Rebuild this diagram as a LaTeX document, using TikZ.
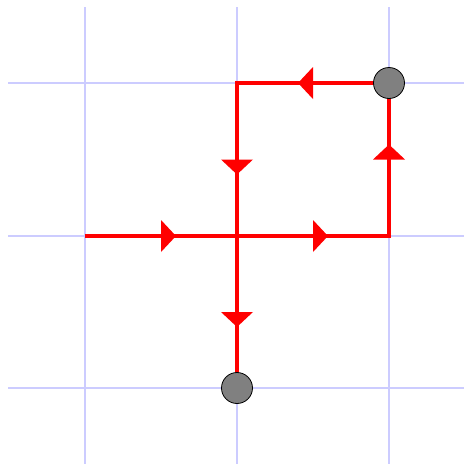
\documentclass[tikz,border=0pt]{standalone}
\usetikzlibrary{decorations.markings}
\definecolor{gridblue}{RGB}{204,204,255}
\definecolor{dotgray}{RGB}{128,128,128}
\tikzset{
  gridline/.style={draw=gridblue, line width=1.6pt},
  route/.style={draw=red, line width=4.5pt,
    postaction={decorate},
    decoration={markings, mark=at position 0.5 with {\fill[red] (0pt,-16pt) -- (15pt,0pt) -- (0pt,16pt) -- cycle;}}},
  dot/.style={circle, fill=dotgray, draw=black, line width=0.8pt, minimum size=31pt, inner sep=0pt}
}
\begin{document}
\begin{tikzpicture}[x=1pt,y=-1pt]
\useasboundingbox (0,0) rectangle (464,464);
% grid
\foreach \v/\h in {85/83,237/236,389/388}{
  \draw[gridline] (\v,7) -- (\v,464);
  \draw[gridline] (8,\h) -- (464,\h);
}
% points
\coordinate (A) at (85,236);
\coordinate (C) at (237,236);
\coordinate (R) at (389,236);
\coordinate (TL) at (237,83);
\coordinate (TRc) at (389,83);
\coordinate (Bc) at (237,388);
% route
\draw[route] (A) -- (C);
\draw[route] (C) -- (R);
\draw[route] (R) -- (TRc);
\draw[route] (TRc) -- (TL);
\draw[route] (TL) -- (C);
\draw[route] (C) -- (Bc);
% square corners
\foreach \p in {TL,R}{
  \fill[red] ([xshift=-2.25pt,yshift=-2.25pt]\p) rectangle ([xshift=2.25pt,yshift=2.25pt]\p);
}
% dots
\node[dot] (TR) at (TRc) {};
\node[dot] (B) at (Bc) {};
\end{tikzpicture}
\end{document}
